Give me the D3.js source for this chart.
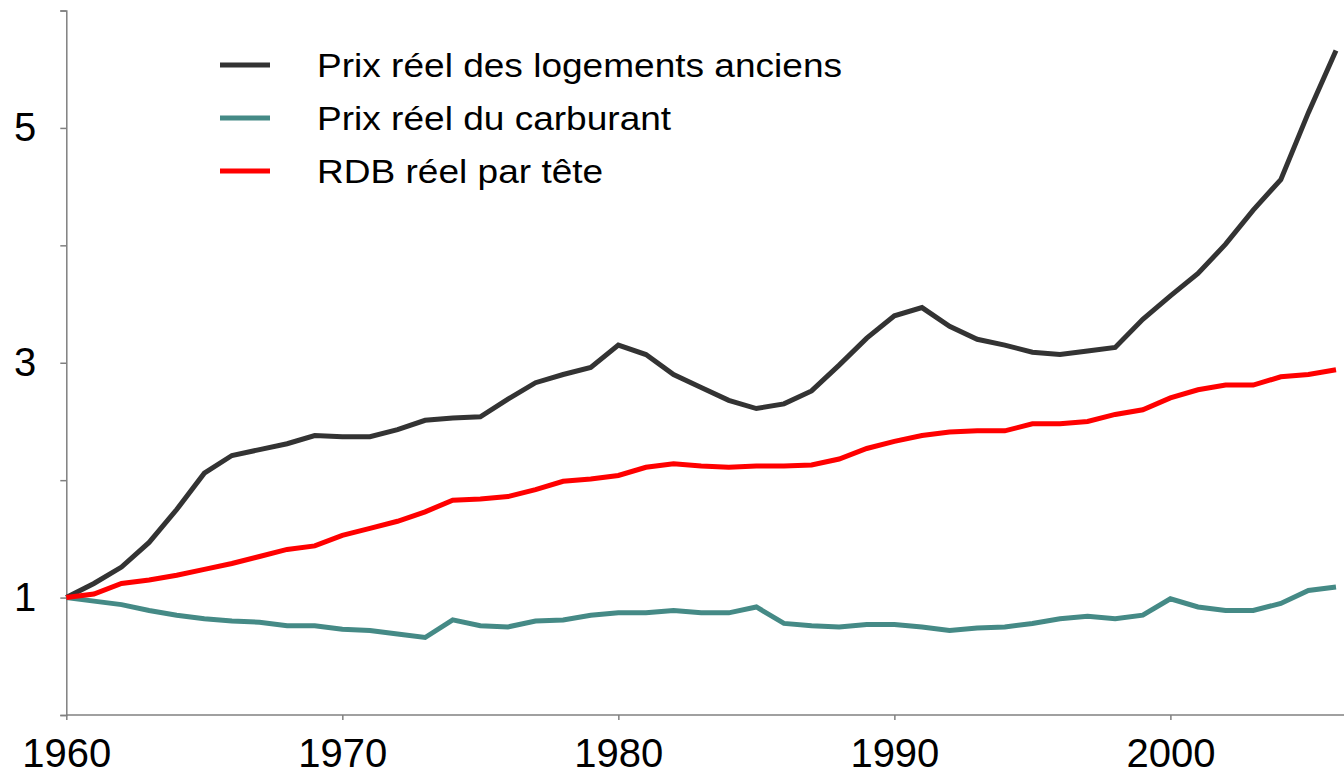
<!DOCTYPE html>
<html>
<head>
<meta charset="utf-8">
<script src="https://cdn.jsdelivr.net/npm/d3@7"></script>
<style>
  html, body { margin: 0; padding: 0; background: #fff; }
  svg { display: block; font-family: Arial, "Liberation Sans", sans-serif; }
</style>
</head>
<body>
<div id="chart"></div>
<script>
// ---------- data ----------
var years = d3.range(1960, 2007);
var logements = [1.00, 1.12, 1.26, 1.47, 1.75, 2.06, 2.21, 2.26, 2.31, 2.38,
  2.37, 2.37, 2.43, 2.51, 2.53, 2.54, 2.69, 2.83, 2.90, 2.96,
  3.15, 3.07, 2.90, 2.79, 2.68, 2.61, 2.65, 2.76, 2.98, 3.21,
  3.40, 3.47, 3.31, 3.20, 3.15, 3.09, 3.07, 3.10, 3.13, 3.37,
  3.57, 3.76, 4.01, 4.30, 4.56, 5.13, 5.66];
var carburant = [1.00, 0.97, 0.94, 0.89, 0.85, 0.82, 0.80, 0.79, 0.76, 0.76,
  0.73, 0.72, 0.69, 0.66, 0.81, 0.76, 0.75, 0.80, 0.81, 0.85,
  0.87, 0.87, 0.89, 0.87, 0.87, 0.92, 0.78, 0.76, 0.75, 0.77,
  0.77, 0.75, 0.72, 0.74, 0.75, 0.78, 0.82, 0.84, 0.82, 0.85,
  0.99, 0.92, 0.89, 0.89, 0.95, 1.06, 1.09];
var rdb = [1.00, 1.03, 1.12, 1.15, 1.19, 1.24, 1.29, 1.35, 1.41, 1.44,
  1.53, 1.59, 1.65, 1.73, 1.83, 1.84, 1.86, 1.92, 1.99, 2.01,
  2.04, 2.11, 2.14, 2.12, 2.11, 2.12, 2.12, 2.13, 2.18, 2.27,
  2.33, 2.38, 2.41, 2.42, 2.42, 2.48, 2.48, 2.50, 2.56, 2.60,
  2.70, 2.77, 2.81, 2.81, 2.88, 2.90, 2.94];
var seriesNames = ['Prix réel des logements anciens', 'Prix réel du carburant', 'RDB réel par tête'];
var seriesColors = ['#333333', '#458a86', '#ff0000'];
var yTicks = [0, 1, 2, 3, 4, 5, 6];
var yLabelled = [1, 3, 5];
var xTicks = [1960, 1970, 1980, 1990, 2000];

// ---------- setup ----------
var W = 1344, H = 776;
var AXIS = '#808080';
var svg = d3.select('#chart').append('svg').attr('width', W).attr('height', H);
var x = d3.scaleLinear().domain([1960, 2006]).range([66.3, 1336]);
var y = d3.scaleLinear().domain([0, 6]).range([715, 10.5]);

// ---------- axes ----------
var gy = svg.append('g').attr('transform', 'translate(' + x(1960) + ',0)')
  .call(d3.axisLeft(y).tickValues(yTicks).tickSize(6).tickPadding(24)
    .tickFormat(function (d) { return yLabelled.indexOf(d) >= 0 ? d : ''; }));
gy.select('.domain').attr('stroke', AXIS).attr('stroke-width', 1.5);
gy.selectAll('line').attr('stroke', AXIS).attr('stroke-width', 1.5);
gy.selectAll('text').attr('fill', '#000').attr('font-size', 40).attr('font-family', 'Arial, "Liberation Sans", sans-serif');

var gx = svg.append('g').attr('transform', 'translate(0,' + y(0) + ')')
  .call(d3.axisBottom(x).tickValues(xTicks).tickSize(5).tickPadding(19).tickFormat(d3.format('d')));
gx.select('.domain').remove();
gx.append('line').attr('x1', x(1960)).attr('x2', W).attr('stroke', AXIS).attr('stroke-width', 1.5);
gx.selectAll('.tick line').attr('stroke', AXIS).attr('stroke-width', 1.5);
gx.selectAll('text').attr('fill', '#000').attr('font-size', 40).attr('font-family', 'Arial, "Liberation Sans", sans-serif');

// ---------- lines ----------
var line = d3.line().x(function (d) { return x(d[0]); }).y(function (d) { return y(d[1]); });
[logements, carburant, rdb].forEach(function (vals, i) {
  svg.append('path').datum(years.map(function (yr, k) { return [yr, vals[k]]; }))
    .attr('d', line).attr('fill', 'none').attr('stroke', seriesColors[i])
    .attr('stroke-width', 5).attr('stroke-linejoin', 'miter');
});

// ---------- legend ----------
var lg = svg.append('g');
seriesNames.forEach(function (name, i) {
  var ly = 65 + i * 53;
  lg.append('line').attr('x1', 220).attr('x2', 270).attr('y1', ly).attr('y2', ly)
    .attr('stroke', seriesColors[i]).attr('stroke-width', 5);
  // reference glyphs are a little wider than Liberation Sans
  lg.append('text').attr('transform', 'translate(317,' + ly + ') scale(1.09,1)').attr('dy', '0.35em')
    .attr('font-size', 34).attr('fill', '#000').text(name);
});
</script>
</body>
</html>
